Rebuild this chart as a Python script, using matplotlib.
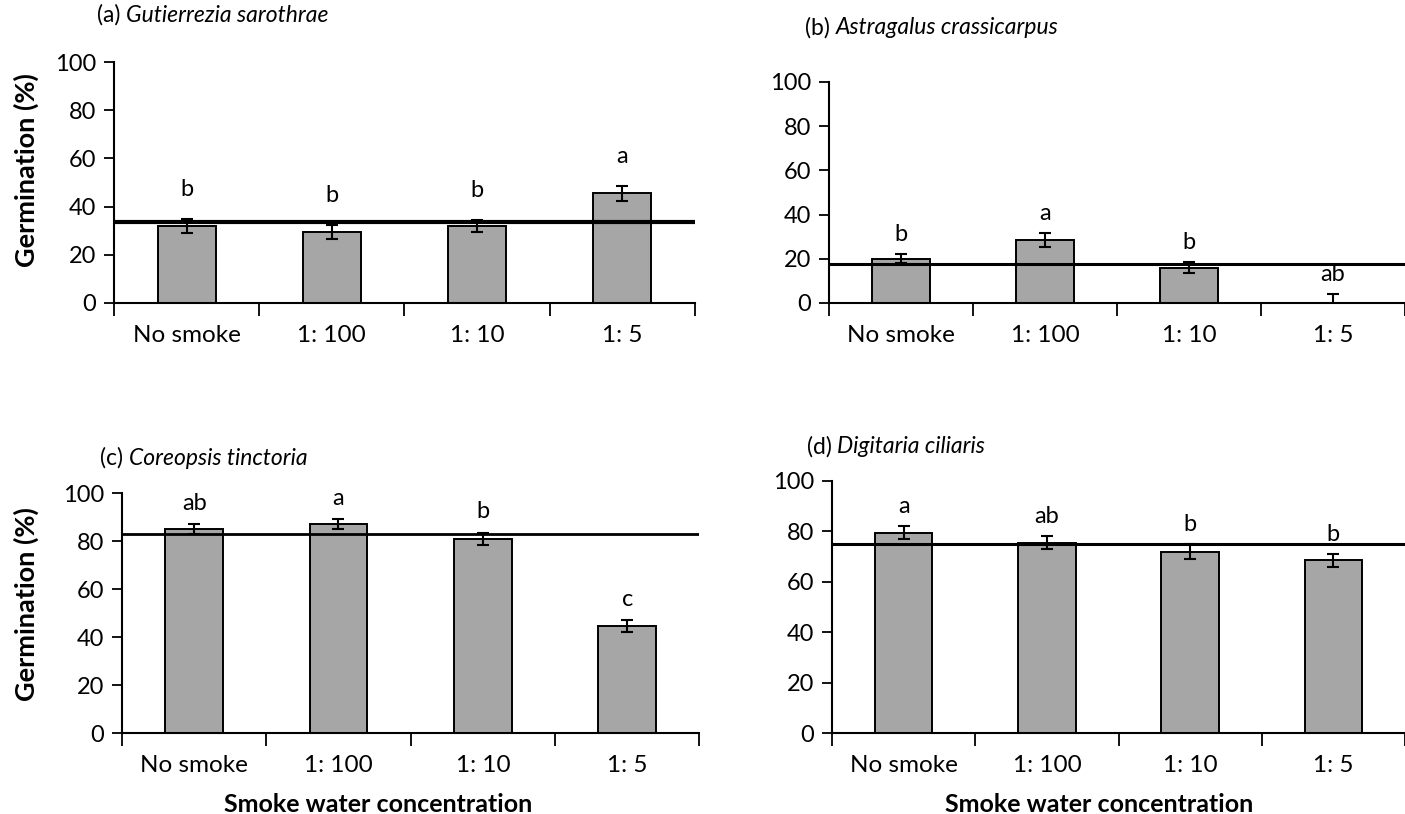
import matplotlib
matplotlib.use("Agg")
import matplotlib.pyplot as plt

plt.rcParams['font.family'] = ['Lato', 'DejaVu Sans']

categories = ["No smoke", "1: 100", "1: 10", "1: 5"]

labels_panel = ["(a)", "(b)", "(c)", "(d)"]
species = ["Gutierrezia sarothrae", "Astragalus crassicarpus",
           "Coreopsis tinctoria", "Digitaria ciliaris"]

vals_a = [32, 29.5, 32, 45.5]
err_a = [3, 3, 2.5, 3]
let_a = ["b", "b", "b", "a"]
ref_a = 33.5

vals_b = [20, 28.5, 16, 0]
err_b = [2, 3, 2.5, 4]
let_b = ["b", "a", "b", "ab"]
ref_b = 17.8

vals_c = [85, 87, 81, 44.5]
err_c = [2, 2, 2.5, 2.5]
let_c = ["ab", "a", "b", "c"]
ref_c = 82.8

vals_d = [79.5, 75.5, 72, 68.5]
err_d = [2.5, 2.5, 3, 2.5]
let_d = ["a", "ab", "b", "b"]
ref_d = 75

yticks = [0, 20, 40, 60, 80, 100]

W, H = 1405, 814
fig = plt.figure(figsize=(W / 100, H / 100), dpi=100)

rects = [
    [0.0811, 0.6278, 0.4136, 0.2960],
    [0.5900, 0.6278, 0.4100, 0.2715],
    [0.0868, 0.0995, 0.4110, 0.2948],
    [0.5922, 0.0995, 0.4078, 0.3096],
]
datasets = [
    (vals_a, err_a, let_a, ref_a, 3.0),
    (vals_b, err_b, let_b, ref_b, 2.2),
    (vals_c, err_c, let_c, ref_c, 2.0),
    (vals_d, err_d, let_d, ref_d, 2.2),
]
letter_offset = [21, 14, 15, 14]
title_pos = [(97, 15), (805, 28), (100, 458), (807, 447)]
ylabel_coords = {0: (39, 0.552), 2: (39, 0.537)}
xlabel_center = {2: 378, 3: 1099}

for i, (rect, (vals, errs, lets, ref, lw)) in enumerate(zip(rects, datasets)):
    ax = fig.add_axes(rect)
    x = list(range(len(categories)))
    ax.bar(x, vals, width=0.4, color="#A6A6A6", edgecolor="black",
           linewidth=1.4, zorder=2)
    ax.errorbar(x, vals, yerr=errs, fmt="none", ecolor="black",
                elinewidth=1.5, capsize=4, capthick=1.5, zorder=3)
    ax.axhline(ref, color="black", linewidth=lw, zorder=4)
    for xi, v, e, l in zip(x, vals, errs, lets):
        ax.annotate(l, xy=(xi, v + e), xytext=(0, letter_offset[i]),
                    textcoords="offset points", ha="center", va="center",
                    fontsize=17)
    ax.set_xlim(-0.5, 3.5)
    ax.set_ylim(0, 100)
    ax.set_yticks(yticks)
    ax.set_xticks(x)
    ax.set_xticklabels(categories, fontsize=17.5)
    ax.set_xticks([-0.5, 0.5, 1.5, 2.5, 3.5], minor=True)
    ax.tick_params(axis="x", which="major", length=0, pad=16)
    ax.tick_params(axis="x", which="minor", length=9, width=1.3,
                   direction="out")
    ax.tick_params(axis="y", labelsize=17, length=7, width=1.3, pad=6)
    for s in ["top", "right"]:
        ax.spines[s].set_visible(False)
    for s in ["left", "bottom"]:
        ax.spines[s].set_linewidth(1.5)
    ax_left = rect[0] * W
    axh_px = rect[3] * H
    axw_px = rect[2] * W
    if i in ylabel_coords:
        px, fy = ylabel_coords[i]
        ax.set_ylabel("Germination (%)", fontsize=19.5, fontweight="bold")
        ax.yaxis.set_label_coords((px - ax_left) / axw_px, fy)
    if i in xlabel_center:
        ax.set_xlabel("Smoke water concentration", fontsize=18,
                      fontweight="bold")
        ax.xaxis.set_label_coords((xlabel_center[i] - ax_left) / axw_px,
                                  -60 / axh_px)
    tx, ty = title_pos[i]
    t = fig.text(tx / W, 1 - ty / H, labels_panel[i], fontsize=16.5,
                 ha="left", va="center")
    ax.annotate(species[i], xy=(1, 0.5), xycoords=t, xytext=(4, 0),
                textcoords="offset points", ha="left", va="center",
                fontsize=16.5, fontstyle="italic")

fig.savefig("out.png", dpi=100)
